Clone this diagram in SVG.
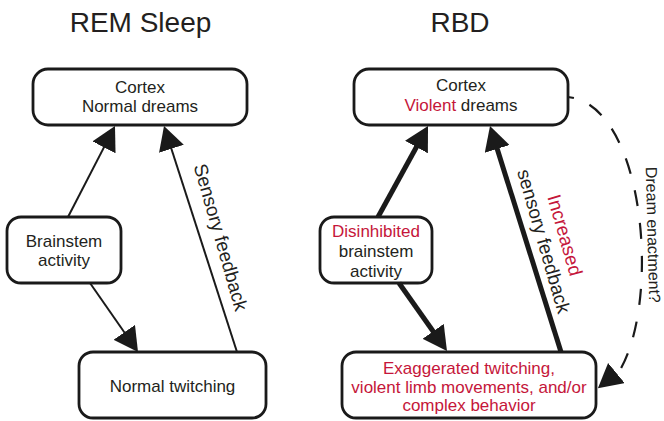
<svg xmlns="http://www.w3.org/2000/svg" width="664" height="421" viewBox="0 0 664 421">
<defs>
<marker id="ah" viewBox="0 0 24 26" refX="14" refY="13" markerWidth="24" markerHeight="26" markerUnits="userSpaceOnUse" orient="auto"><path d="M0,0 L24,13 L0,26 Z" fill="#1a1a1a"/></marker>
<style>
.box{fill:#fff;stroke:#1a1a1a;stroke-width:2.8}
text{font-family:"Liberation Sans",Arial,Helvetica,sans-serif;fill:#231f20}
.t{font-size:17px;text-anchor:middle}
.title{font-size:28px;text-anchor:middle}
.lbl{font-size:19px;text-anchor:middle}
.red{fill:#c5163a}
.thin{stroke:#1a1a1a;stroke-width:2;fill:none}
.thick{stroke:#1a1a1a;stroke-width:5;fill:none}
.dash{stroke:#1a1a1a;stroke-width:2.2;fill:none;stroke-dasharray:16 17;stroke-dashoffset:10}
</style>
</defs>
<rect width="664" height="421" fill="#fff"/>
<text class="title" x="140.5" y="32">REM Sleep</text>
<text class="title" x="460" y="32">RBD</text>

<g id="rem-cortex">
<rect class="box" x="33" y="69" width="214" height="56" rx="15"/>
<text class="t" x="140" y="92.5">Cortex</text>
<text class="t" x="140" y="111.5">Normal dreams</text>
</g>
<g id="rem-brainstem">
<rect class="box" x="7" y="217" width="114" height="66" rx="14"/>
<text class="t" x="64" y="246.5">Brainstem</text>
<text class="t" x="64" y="266">activity</text>
</g>
<g id="rem-twitching">
<rect class="box" x="79" y="352" width="187" height="66" rx="14"/>
<text class="t" x="172.5" y="391.5">Normal twitching</text>
</g>

<g id="rbd-cortex">
<rect class="box" x="354" y="69" width="214" height="56" rx="15"/>
<text class="t" x="461" y="91">Cortex</text>
<text class="t" x="461" y="110.5"><tspan class="red">Violent</tspan> dreams</text>
</g>
<g id="rbd-brainstem">
<rect class="box" x="320" y="217" width="112" height="66" rx="14"/>
<text class="t red" x="376" y="237">Disinhibited</text>
<text class="t" x="376" y="257">brainstem</text>
<text class="t" x="376" y="276.5">activity</text>
</g>
<g id="rbd-behavior">
<rect class="box" x="342" y="352" width="254" height="66" rx="14"/>
<text class="t red" x="469" y="373.5">Exaggerated twitching,</text>
<text class="t red" x="469" y="392.5">violent limb movements, and/or</text>
<text class="t red" x="469" y="411">complex behavior</text>
</g>

<g id="connectors">
<line class="thin" x1="68" y1="217" x2="110.4" y2="134.9" marker-end="url(#ah)"/>
<line class="thin" x1="237" y1="352" x2="167.1" y2="135.5" marker-end="url(#ah)"/>
<line class="thin" x1="90" y1="283" x2="132.3" y2="343.8" marker-end="url(#ah)"/>
<line class="thick" x1="378" y1="217" x2="423.2" y2="134.8" marker-end="url(#ah)"/>
<line class="thick" x1="561" y1="352" x2="493" y2="135.5" marker-end="url(#ah)"/>
<line class="thick" x1="399" y1="283" x2="441.2" y2="342.8" marker-end="url(#ah)"/>
<path class="dash" d="M568,97 C645,105 661,300 620,370 L605.6,381.9" marker-end="url(#ah)"/>
</g>

<g id="labels">
<text class="lbl" transform="translate(214.5,239) rotate(74)">Sensory feedback</text>
<text class="lbl" transform="translate(537.5,243) rotate(74)"><tspan class="red" x="0" y="-22">Increased</tspan><tspan x="0" y="0">sensory feedback</tspan></text>
<text style="font-size:16px;text-anchor:middle" transform="translate(647.5,235) rotate(88.5)">Dream enactment?</text>
</g>
</svg>
